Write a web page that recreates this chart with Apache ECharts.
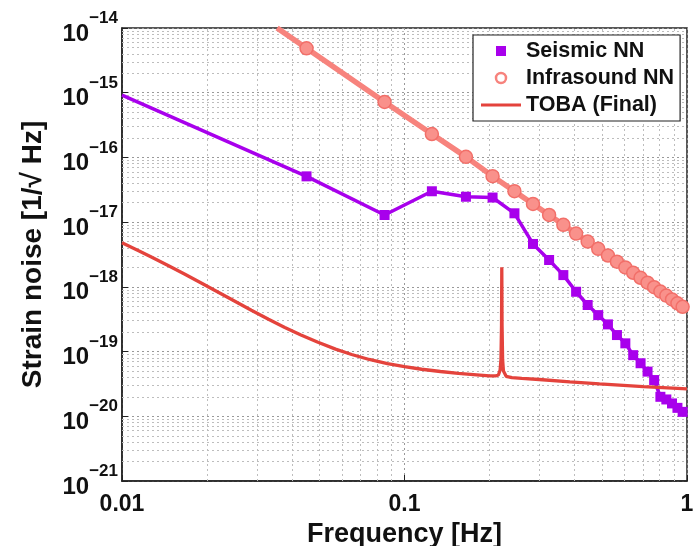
<!DOCTYPE html>
<html>
<head>
<meta charset="utf-8">
<script src="https://cdn.jsdelivr.net/npm/echarts@6/dist/echarts.min.js"></script>
<style>
html,body{margin:0;padding:0;background:#fff;}
#chart{width:695px;height:546px;}
</style>
</head>
<body>
<div id="chart"></div>
<script>
// ---- data ----
const xTickLabels = ['0.01', '0.1', '1'];
const yTickExponents = ['−21', '−20', '−19', '−18', '−17', '−16', '−15', '−14'];

const seismicFreq = [0.01, 0.045, 0.085, 0.125, 0.165, 0.205, 0.245, 0.285, 0.325, 0.365, 0.405, 0.445, 0.485, 0.525, 0.565, 0.605, 0.645, 0.685, 0.725, 0.765, 0.805, 0.845, 0.885, 0.925, 0.965];
const seismicNN = [9.2e-16, 5.1e-17, 1.29e-17, 3.0e-17, 2.47e-17, 2.4e-17, 1.37e-17, 4.6e-18, 2.6e-18, 1.52e-18, 8.4e-19, 5.24e-19, 3.66e-19, 2.63e-19, 1.8e-19, 1.34e-19, 8.8e-20, 6.6e-20, 4.9e-20, 3.63e-20, 2.0e-20, 1.82e-20, 1.58e-20, 1.35e-20, 1.17e-20];

const infraFreq = [0.0354, 0.045, 0.085, 0.125, 0.165, 0.205, 0.245, 0.285, 0.325, 0.365, 0.405, 0.445, 0.485, 0.525, 0.565, 0.605, 0.645, 0.685, 0.725, 0.765, 0.805, 0.845, 0.885, 0.925, 0.965];
const infraNN = [1.0e-14, 4.85e-15, 7.2e-16, 2.3e-16, 1.02e-16, 5.13e-17, 3.01e-17, 1.91e-17, 1.29e-17, 9.09e-18, 6.65e-18, 5.02e-18, 3.87e-18, 3.05e-18, 2.45e-18, 2.0e-18, 1.65e-18, 1.38e-18, 1.16e-18, 9.87e-19, 8.47e-19, 7.33e-19, 6.38e-19, 5.58e-19, 4.92e-19];

const tobaFreq = [0.01, 0.0115, 0.0127, 0.0145, 0.0167, 0.019, 0.022, 0.025, 0.0287, 0.033, 0.0377, 0.043, 0.0494, 0.057, 0.065, 0.075, 0.087, 0.1, 0.115, 0.134, 0.155, 0.18, 0.2, 0.21, 0.215, 0.218, 0.2195, 0.2205, 0.221, 0.2215, 0.2225, 0.224, 0.229, 0.24, 0.26, 0.3, 0.385, 0.49, 0.7, 1.0];
const tobaFinal = [4.8e-18, 3.58e-18, 2.89e-18, 2.16e-18, 1.57e-18, 1.16e-18, 8.2e-19, 6.05e-19, 4.35e-19, 3.15e-19, 2.36e-19, 1.8e-19, 1.39e-19, 1.09e-19, 9.0e-20, 7.55e-20, 6.5e-20, 5.84e-20, 5.33e-20, 4.92e-20, 4.62e-20, 4.38e-20, 4.22e-20, 4.2e-20, 4.35e-20, 5.2e-20, 7.5e-20, 2.5e-19, 2.0e-18, 2.5e-19, 7.5e-20, 5.0e-20, 4.15e-20, 3.95e-20, 3.85e-20, 3.7e-20, 3.41e-20, 3.16e-20, 2.88e-20, 2.65e-20];

// ECharts rounds values to 20 decimals, so the strain values are plotted in units of 1e-21
const Y_UNIT = 1e-21;
const pairs = (xs, ys) => xs.map((x, i) => [x, ys[i] / Y_UNIT]);

// logarithmic minor grid (2..9 within each decade)
const minorSteps = [2, 3, 4, 5, 6, 7, 8, 9];
const xMinorLines = [];
[0.01, 0.1].forEach(d => minorSteps.forEach(k => xMinorLines.push({xAxis: k * d})));
const yMinorLines = [];
[1, 10, 100, 1e3, 1e4, 1e5, 1e6].forEach(d => minorSteps.forEach(k => yMinorLines.push({yAxis: k * d})));

const FONT = 'Liberation Sans';
const chart = echarts.init(document.getElementById('chart'), null, {renderer: 'canvas'});

const gridLine = {show: true, lineStyle: {color: '#999', type: [2, 3], width: 1}};

const seismicData = pairs(seismicFreq, seismicNN).map((p, i) => i === 0 ? {value: p, symbol: 'none'} : p);
const infraData = pairs(infraFreq, infraNN).map((p, i) => i === 0 ? {value: p, symbol: 'none'} : p);

chart.setOption({
  animation: false,
  backgroundColor: '#fff',
  grid: {left: 122, right: 8, top: 28, bottom: 65, show: true, borderColor: '#222', borderWidth: 1.5,
    containLabel: false, outerBoundsMode: 'none'},
  legend: {
    orient: 'vertical', left: 473, top: 35,
    padding: [5, 6, 5, 8], itemGap: 5, itemWidth: 40, itemHeight: 10,
    borderColor: '#222', borderWidth: 1.2, backgroundColor: '#fff',
    textStyle: {fontFamily: FONT, fontWeight: 'bold', fontSize: 21.5, color: '#111'},
    data: [
      {name: 'Seismic NN', icon: 'path://M0,0H10V10H0Z', itemStyle: {color: '#a800ec'}},
      {name: 'Infrasound NN', icon: 'circle', itemStyle: {color: '#fff', borderColor: '#f7837d', borderWidth: 2.5}},
      {name: 'TOBA (Final)', icon: 'path://M0,0H40V3H0Z', itemStyle: {color: '#e4433c'}}
    ]
  },
  xAxis: [{
    type: 'log', logBase: 10, min: 0.01, max: 1, splitNumber: 2,
    name: 'Frequency [Hz]', nameLocation: 'middle', nameGap: 36,
    nameTextStyle: {fontFamily: FONT, fontWeight: 'bold', fontSize: 27, color: '#111'},
    axisLine: {show: true, onZero: false, lineStyle: {color: '#222', width: 1.5}},
    axisTick: {show: true, inside: true, length: 6, lineStyle: {color: '#222'}},
    axisLabel: {margin: 12, fontFamily: FONT, fontWeight: 'bold', fontSize: 23, color: '#111',
      formatter: v => xTickLabels[Math.round(Math.log10(v)) + 2]},
    splitLine: gridLine
  }],
  yAxis: [{
    type: 'log', logBase: 10, min: 1, max: 1e7, splitNumber: 7,
    name: 'Strain noise [1/√ Hz]', nameLocation: 'middle', nameGap: 75,
    nameTextStyle: {fontFamily: FONT, fontWeight: 'bold', fontSize: 28, color: '#111'},
    axisLine: {show: true, onZero: false, lineStyle: {color: '#222', width: 1.5}},
    axisTick: {show: true, inside: true, length: 6, lineStyle: {color: '#222'}},
    axisLabel: {margin: 4, fontFamily: FONT, fontWeight: 'bold', color: '#111',
      formatter: v => '{b|10}{s|' + yTickExponents[Math.round(Math.log10(v))] + '}',
      rich: {
        b: {fontFamily: FONT, fontWeight: 'bold', fontSize: 24, color: '#111', lineHeight: 36, verticalAlign: 'bottom'},
        s: {fontFamily: FONT, fontWeight: 'bold', fontSize: 17, color: '#111', lineHeight: 36, verticalAlign: 'top'}
      }},
    splitLine: gridLine
  }],
  series: [
    {
      name: 'minor grid', type: 'line', data: [], z: 1, silent: true,
      markLine: {
        silent: true, symbol: 'none', z: 1, animation: false,
        label: {show: false},
        lineStyle: {color: '#bdbdbd', type: [2, 3], width: 1},
        emphasis: {disabled: true},
        data: xMinorLines.concat(yMinorLines)
      }
    },
    {
      name: 'Seismic NN', type: 'line', data: seismicData, z: 3,
      symbol: 'rect', symbolSize: 10, showAllSymbol: true,
      lineStyle: {color: '#a800ec', width: 3.5}, itemStyle: {color: '#a800ec'}
    },
    {
      name: 'Infrasound NN', type: 'line', data: infraData, z: 2,
      symbol: 'circle', symbolSize: 13, showAllSymbol: true,
      lineStyle: {color: '#f7837d', width: 5.5}, itemStyle: {color: '#f9918b', borderColor: '#f26f69', borderWidth: 1.5}
    },
    {
      name: 'TOBA (Final)', type: 'line', data: pairs(tobaFreq, tobaFinal), z: 4,
      symbol: 'none', lineStyle: {color: '#e4433c', width: 3.3}, itemStyle: {color: '#e4433c'}
    }
  ]
});
</script>
</body>
</html>
